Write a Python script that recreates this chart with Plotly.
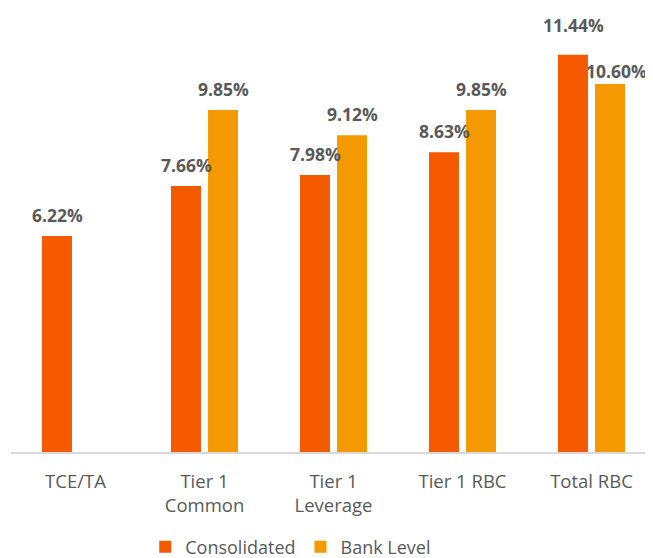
import plotly.graph_objects as go

categories = ["TCE/TA", "Tier 1<br>Common", "Tier 1<br>Leverage", "Tier 1 RBC", "Total RBC"]
consolidated = [6.22, 7.66, 7.98, 8.63, 11.44]
bank_level = [None, 9.85, 9.12, 9.85, 10.60]

series = [
    ("Consolidated", consolidated, "#F65A00", -18.5),
    ("Bank Level", bank_level, "#F59900", 18.5),
]

# manual label nudges (pixels) for a couple of hand-placed labels: (series, index) -> (dx, dy)
label_nudge = {("Consolidated", 4): (0, 9), ("Bank Level", 4): (6, -8)}

fig = go.Figure()
annotations = []
for name, vals, color, dx in series:
    fig.add_bar(name=name, x=categories, y=vals, marker_color=color,
                marker_line_width=0)
    for i, v in enumerate(vals):
        if v is None:
            continue
        ndx, ndy = label_nudge.get((name, i), (0, 0))
        annotations.append(dict(
            x=categories[i], y=v, xref="x", yref="y",
            text=f"{v:.2f}%", showarrow=False,
            xanchor="center", yanchor="middle",
            xshift=dx + ndx, yshift=21 + ndy,
            font=dict(family="Open Sans", size=17.5, color="#595959", weight="bold"),
        ))

fig.update_layout(
    width=653, height=558,
    margin=dict(l=3, r=5, t=10, b=114),
    paper_bgcolor="white", plot_bgcolor="white",
    barmode="group", bargap=0.426, bargroupgap=0.19,
    font=dict(family="Open Sans", color="#595959"),
    showlegend=True,
    legend=dict(orientation="h", xref="container", yref="container",
                x=0.433, xanchor="center", y=0.034, yanchor="middle",
                font=dict(size=18, color="#595959"), itemwidth=30,
                traceorder="normal"),
    annotations=annotations,
)
fig.update_xaxes(showline=True, linecolor="#d9d9d9", linewidth=1.5,
                 tickfont=dict(size=18.5, color="#595959"), ticks="",
                 ticklabelstandoff=12, showgrid=False)
fig.update_yaxes(range=[0, 12.5], visible=False, showgrid=False)

fig.write_html("out.html")
